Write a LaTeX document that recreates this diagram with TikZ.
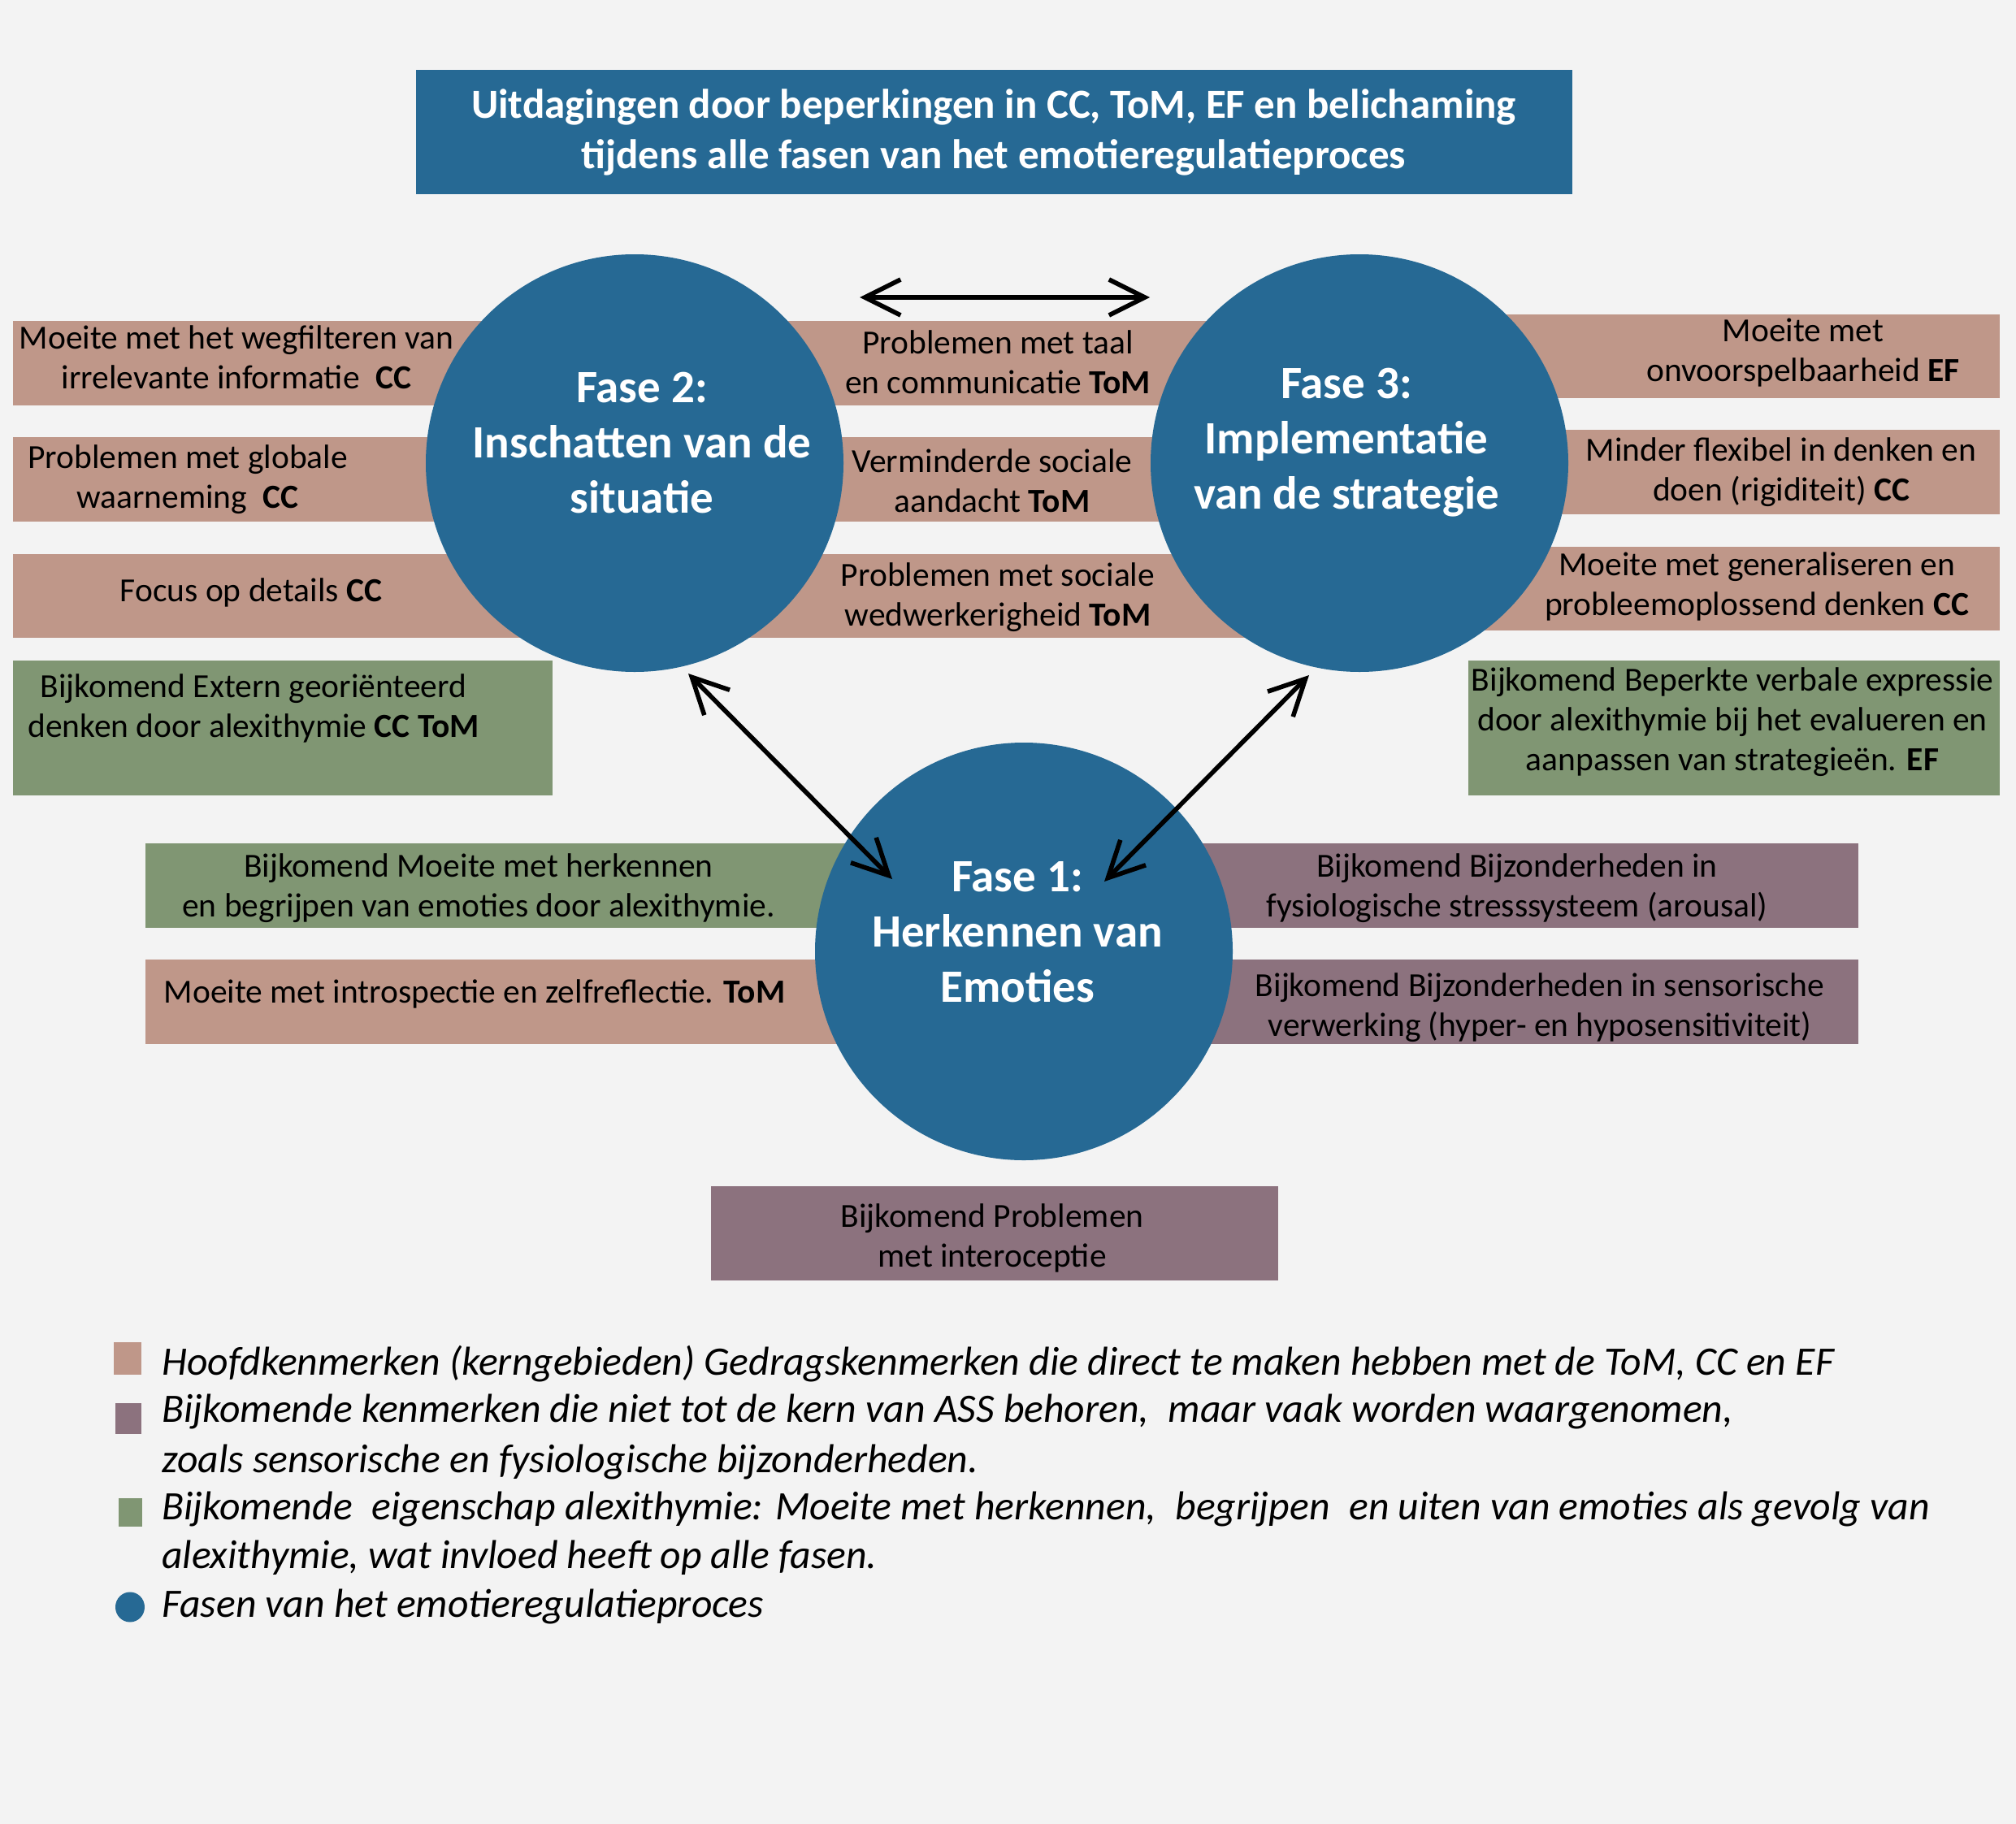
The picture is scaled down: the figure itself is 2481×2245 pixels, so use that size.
\documentclass[tikz,border=0pt]{standalone}
\usepackage{fontspec}
\setmainfont{Carlito}
\usetikzlibrary{arrows.meta}
\definecolor{bgc}{RGB}{243,243,243}
\definecolor{bluec}{RGB}{38,105,148}
\definecolor{pinkc}{RGB}{191,151,137}
\definecolor{greenc}{RGB}{128,150,115}
\definecolor{purplec}{RGB}{140,114,126}
\tikzset{
  body/.style={font=\fontsize{41.5}{49}\selectfont, align=center, text=black, inner sep=0pt},
  phasetxt/.style={font=\fontsize{57}{68}\selectfont\bfseries, align=center, text=white, inner sep=0pt},
  titletxt/.style={font=\fontsize{51}{62}\selectfont\bfseries, align=center, text=white, inner sep=0pt},
  legtxt/.style={font=\fontsize{49.7}{60}\selectfont\itshape, anchor=base west, text=black, inner sep=0pt},
  phase/.style={circle, fill=bluec, draw=none, minimum size=514pt, inner sep=0pt},
  dbl/.style={line width=5.6pt, {Straight Barb[length=44pt,width=44pt]}-{Straight Barb[length=44pt,width=44pt]}}
}
\begin{document}
\begin{tikzpicture}[x=1pt,y=-1pt]
\fill[bgc] (0,0) rectangle (2481,2245);
\useasboundingbox (0,0) rectangle (2481,2245);

% title
\fill[bluec] (512,86) rectangle (1935,239);
\node[titletxt] (title) at (1223,163) {Uitdagingen door beperkingen in CC, ToM, EF en belichaming\\tijdens alle fasen van het emotieregulatieproces};

% rows behind fase 2 and 3
\fill[pinkc] (16,395) rectangle (1600,499);
\fill[pinkc] (16,538) rectangle (1600,642);
\fill[pinkc] (16,682) rectangle (1600,785);
\fill[greenc] (16,813) rectangle (680,979);
\fill[pinkc] (1600,387) rectangle (2461,490);
\fill[pinkc] (1600,529) rectangle (2461,633);
\fill[pinkc] (1600,673) rectangle (2461,776);
\fill[greenc] (1807,813) rectangle (2461,979);

% rows behind fase 1
\fill[greenc] (179,1038) rectangle (1250,1142);
\fill[pinkc] (179,1181) rectangle (1250,1285);
\fill[purplec] (1250,1038) rectangle (2287,1142);
\fill[purplec] (1250,1181) rectangle (2287,1285);
\fill[purplec] (875,1460) rectangle (1573,1576);

% circles
\node[phase] (f2) at (781,570) {};
\node[phase] (f3) at (1673,570) {};
\node[phase] (f1) at (1260,1171) {};

\node[phasetxt] (f2t) at (790,545) {Fase 2:\\Inschatten van de\\situatie};
\node[phasetxt] (f3t) at (1657,545) {Fase 3:\\Implementatie\\van de strategie};
\node[phasetxt] (f1t) at (1252,1147) {Fase 1:\\Herkennen van\\Emoties};

% texts left
\node[body] (l1) at (291,440) {Moeite met het wegfilteren van\\irrelevante informatie\hspace{0.25em} \textbf{CC}};
\node[body] (l2) at (231,590) {Problemen met globale\\waarneming\hspace{0.25em} \textbf{CC}};
\node[body] (l3) at (309,729) {Focus op details \textbf{CC}};
\node[body] (l4) at (312,872) {Bijkomend Extern georiënteerd\\denken door alexithymie \textbf{CC ToM}};

% texts middle
\node[body] (m1) at (1228,446) {Problemen met taal\\en communicatie \textbf{ToM}};
\node[body] (m2) at (1221,592) {Verminderde sociale\\aandacht \textbf{ToM}};
\node[body] (m3) at (1228,735) {Problemen met sociale\\wedwerkerigheid \textbf{ToM}};

% texts right
\node[body] (r1) at (2219,434) {Moeite met\\onvoorspelbaarheid \textbf{EF}};
\node[body] (r2) at (2192,581) {Minder flexibel in denken en\\doen (rigiditeit) \textbf{CC}};
\node[body] (r3) at (2162,722) {Moeite met generaliseren en\\probleemoplossend denken \textbf{CC}};
\node[body] (r4) at (2132,889) {Bijkomend Beperkte verbale expressie\\door alexithymie bij het evalueren en\\aanpassen van strategieën. \textbf{EF}};

% texts around fase 1
\node[body] (b1) at (589,1093) {Bijkomend Moeite met herkennen\\en begrijpen van emoties door alexithymie.};
\node[body] (b2) at (584,1223) {Moeite met introspectie en zelfreflectie. \textbf{ToM}};
\node[body] (b3) at (1867,1093) {Bijkomend Bijzonderheden in\\fysiologische stresssysteem (arousal)};
\node[body] (b4) at (1895,1240) {Bijkomend Bijzonderheden in sensorische\\verwerking (hyper- en hyposensitiviteit)};
\node[body] (b5) at (1221,1524) {Bijkomend Problemen\\met interoceptie};

% arrows
\coordinate (h1) at (1058,366);
\coordinate (h2) at (1415,366);
\coordinate (dl1) at (847,829);
\coordinate (dl2) at (1098,1082);
\coordinate (dr1) at (1611,831);
\coordinate (dr2) at (1359,1085);
\draw[dbl] (h1) -- (h2);
\draw[dbl] (dl1) -- (dl2);
\draw[dbl] (dr1) -- (dr2);

% legend
\fill[pinkc] (140,1652) rectangle (174,1692);
\fill[purplec] (142,1727) rectangle (174,1765);
\fill[greenc] (146,1844) rectangle (175,1879);
\fill[bluec] (160,1978) ellipse [x radius=18, y radius=18.5];
\node[legtxt] (g1) at (199,1692) {Hoofdkenmerken (kerngebieden) Gedragskenmerken die direct te maken hebben met de ToM, CC en EF};
\node[legtxt] (g2) at (199,1750) {Bijkomende kenmerken die niet tot de kern van ASS behoren,\hspace{0.25em} maar vaak worden waargenomen,};
\node[legtxt] (g3) at (199,1812) {zoals sensorische en fysiologische bijzonderheden.};
\node[legtxt] (g4) at (199,1870) {Bijkomende\hspace{0.25em} eigenschap alexithymie: Moeite met herkennen,\hspace{0.25em} begrijpen\hspace{0.25em} en uiten van emoties als gevolg van};
\node[legtxt] (g5) at (199,1930) {alexithymie, wat invloed heeft op alle fasen.};
\node[legtxt] (g6) at (199,1990) {Fasen van het emotieregulatieproces};
\end{tikzpicture}
\end{document}
